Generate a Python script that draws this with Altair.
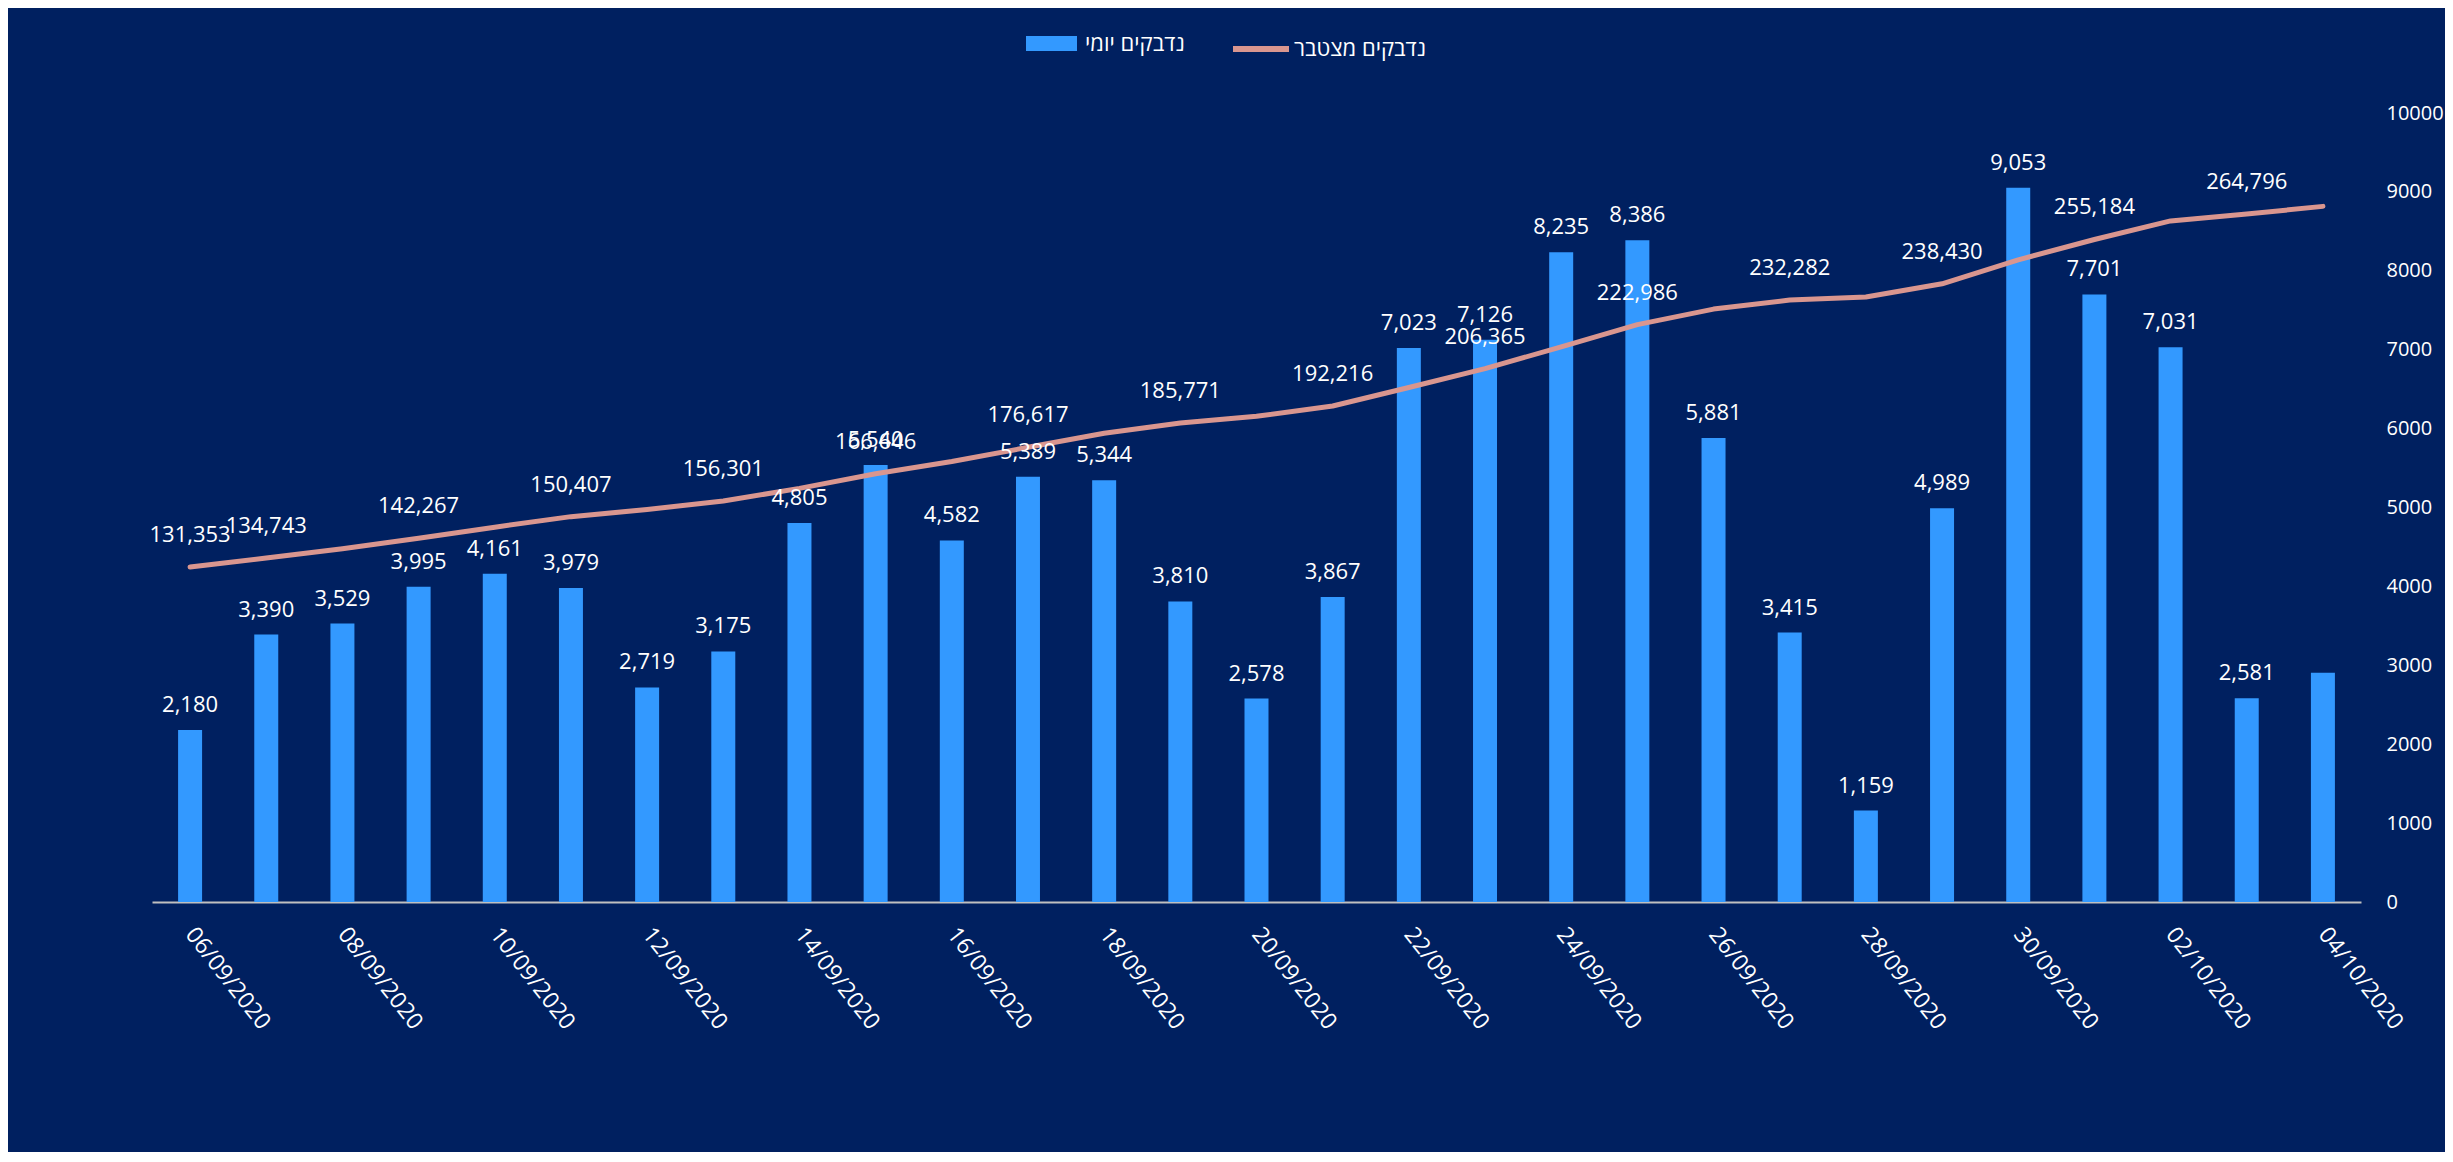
import altair as alt
import pandas as pd

dates = [
    "06/09/2020", "07/09/2020", "08/09/2020", "09/09/2020", "10/09/2020",
    "11/09/2020", "12/09/2020", "13/09/2020", "14/09/2020", "15/09/2020",
    "16/09/2020", "17/09/2020", "18/09/2020", "19/09/2020", "20/09/2020",
    "21/09/2020", "22/09/2020", "23/09/2020", "24/09/2020", "25/09/2020",
    "26/09/2020", "27/09/2020", "28/09/2020", "29/09/2020", "30/09/2020",
    "01/10/2020", "02/10/2020", "03/10/2020", "04/10/2020",
]
daily = [2180, 3390, 3529, 3995, 4161, 3979, 2719, 3175, 4805, 5540,
         4582, 5389, 5344, 3810, 2578, 3867, 7023, 7126, 8235, 8386,
         5881, 3415, 1159, 4989, 9053, 7701, 7031, 2581, 2905]
cumulative = [131353, 134743, 138272, 142267, 146428, 150407, 153126, 156301,
              161106, 166646, 171228, 176617, 181961, 185771, 188349, 192216,
              199239, 206365, 214600, 222986, 228867, 232282, 233441, 238430,
              247483, 255184, 262215, 264796, 267701]
# which points carry a value label in the reference
bar_label_shown = [True] * 28 + [False]
cum_label_shown = [True, True, False, True, False, True, False, True, False, True,
                   False, True, False, True, False, True, False, True, False, True,
                   False, True, False, True, False, True, False, True, False]
tick_labels = dates[::2]
y_ticks = [0, 1000, 2000, 3000, 4000, 5000, 6000, 7000, 8000, 9000, 10000]

bar_name = "נדבקים יומי"
line_name = "נדבקים מצטבר"

BG = "#002060"
BAR = "#3399ff"
LINE = "#d9968f"
FONT = "Open Sans"

df = pd.DataFrame({
    "date": dates,
    "daily": daily,
    "cum": cumulative,
    "bar_show": bar_label_shown,
    "cum_show": cum_label_shown,
    "bar_series": [bar_name] * len(dates),
    "line_series": [line_name] * len(dates),
})

x_enc = alt.X(
    "date:N", sort=dates, title=None,
    scale=alt.Scale(paddingInner=0.685, paddingOuter=0.3425),
    axis=alt.Axis(values=tick_labels, labelAngle=52, labelAlign="left",
                  labelBaseline="middle", labelPadding=28, ticks=False,
                  domainColor="#c0c0c0", domainWidth=2, labelColor="white",
                  labelFont=FONT, labelFontSize=23, grid=False, labelOverlap=False),
)

bar_scale = alt.Scale(domain=[0, 10000], nice=False, zero=True)
line_scale = alt.Scale(domain=[4730, 303000], nice=False, zero=False)

base = alt.Chart(df)

bars = base.mark_bar(color=BAR).encode(
    x=x_enc,
    y=alt.Y("daily:Q", scale=bar_scale, title=None,
            axis=alt.Axis(orient="right", values=y_ticks, format="d", ticks=False,
                          domain=False, grid=False, labelAlign="left",
                          labelPadding=25, labelColor="white", labelFont=FONT,
                          labelFontSize=20)),
    color=alt.Color("bar_series:N",
                    scale=alt.Scale(domain=[bar_name], range=[BAR]),
                    legend=alt.Legend(orient="none", legendX=874, legendY=-95,
                                      title=None, padding=0,
                                      symbolType="M-1,-0.294H1V0.294H-1Z",
                                      symbolSize=2601, symbolStrokeWidth=0,
                                      labelFontSize=22, labelColor="white",
                                      labelFont=FONT, labelOffset=8, labelLimit=400)),
)

line = base.mark_line(strokeWidth=5, strokeCap="round", strokeJoin="round").encode(
    x=x_enc,
    y=alt.Y("cum:Q", scale=line_scale, axis=None),
    stroke=alt.Stroke("line_series:N",
                      scale=alt.Scale(domain=[line_name], range=[LINE]),
                      legend=alt.Legend(orient="none", legendX=1078, legendY=-95,
                                        title=None, padding=0, symbolType="stroke",
                                        symbolSize=3136, symbolStrokeWidth=6,
                                        labelFontSize=22, labelColor="white",
                                        labelFont=FONT, labelOffset=2, labelLimit=400)),
)

bar_text = base.transform_filter("datum.bar_show").mark_text(
    color="white", font=FONT, fontSize=22, baseline="alphabetic", dy=-18
).encode(
    x=x_enc,
    y=alt.Y("daily:Q", scale=bar_scale, axis=None),
    text=alt.Text("daily:Q", format=","),
)

line_text = base.transform_filter("datum.cum_show").mark_text(
    color="white", font=FONT, fontSize=22, baseline="alphabetic", dy=-25
).encode(
    x=x_enc,
    y=alt.Y("cum:Q", scale=line_scale, axis=None),
    text=alt.Text("cum:Q", format=","),
)

chart = alt.layer(bars, line, bar_text, line_text).resolve_scale(
    y="independent"
).properties(
    width=2209, height=789,
    autosize=alt.AutoSizeParams(type="none"),
    padding={"left": 144, "top": 105, "right": 84, "bottom": 250},
    background=BG,
).configure_view(stroke=None)

chart.save("out.html", embed_options={"renderer": "svg", "actions": False})
